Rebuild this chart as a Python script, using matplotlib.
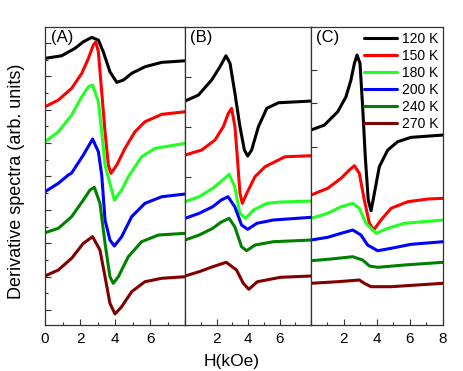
import matplotlib
matplotlib.use("Agg")
import matplotlib.pyplot as plt
import numpy as np

plt.rcParams['font.family'] = ['Liberation Sans', 'DejaVu Sans']

temps = ["120 K", "150 K", "180 K", "200 K", "240 K", "270 K"]
colors = ["black", "#ff0000", "#22ff22", "#0000ff", "#008000", "#800000"]

# panel A: (H, signal) per temperature
a_x = [
    [0, 0.95, 1.71, 2.19, 2.67, 3.05, 3.33, 3.71, 4.1, 4.48, 4.95, 5.71, 6.67, 8],
    [0, 0.76, 1.52, 2.1, 2.48, 2.76, 2.9, 3.05, 3.24, 3.43, 3.62, 3.77, 4.1, 4.57, 5.14, 5.71, 6.67, 8],
    [0, 0.76, 1.52, 2.1, 2.48, 2.72, 3.05, 3.24, 3.43, 3.71, 3.96, 4.38, 4.76, 4.95, 5.52, 6.29, 8],
    [0, 0.76, 1.33, 1.52, 2.19, 2.72, 3.05, 3.24, 3.43, 3.71, 3.96, 4.38, 4.95, 5.71, 6.67, 8],
    [0, 0.76, 1.52, 2.19, 2.57, 2.82, 3.14, 3.43, 3.71, 3.9, 4.19, 4.76, 5.52, 6.48, 8],
    [0, 0.76, 1.52, 2.19, 2.72, 3.14, 3.43, 3.71, 4.0, 4.38, 4.95, 5.71, 6.67, 8],
]
a_y = [
    [266.7, 269.3, 276.7, 283.3, 287.7, 285, 273.3, 253.3, 242.7, 245, 251.7, 258.3, 262.7, 264.3],
    [218.3, 225, 236.7, 251.7, 266.7, 280, 283.3, 273.3, 233.3, 193.3, 160, 151.7, 160, 176.7, 193.3, 203.3, 210.7, 213.3],
    [183.3, 193.3, 210, 228.3, 238.3, 240, 223.3, 193.3, 160, 141.7, 125, 135, 148.3, 153.3, 168.3, 176.7, 181.7],
    [133.3, 141.7, 150, 152, 170, 186, 173.3, 150, 105, 85, 79, 88.3, 108.3, 121.7, 128.3, 131],
    [92.3, 96.7, 108.3, 125, 135, 137.7, 121.7, 81.7, 48.3, 41.7, 48.3, 68.3, 83.3, 90, 91.7],
    [49, 55, 66.7, 81.7, 88.3, 75, 48.3, 21.7, 11, 18.3, 33.3, 43.3, 46.7, 48.3],
]

# panel B
b_x = [
    [0, 0.85, 1.69, 2.22, 2.6, 2.86, 3.17, 3.49, 3.77, 3.98, 4.23, 4.66, 5.19, 5.93, 8],
    [0, 1.06, 1.9, 2.43, 2.75, 2.96, 3.17, 3.32, 3.49, 3.64, 3.92, 4.44, 5.08, 6.35, 8],
    [0, 0.9, 1.76, 2.4, 2.8, 3.16, 3.48, 3.85, 4.34, 5.2, 6.06, 8],
    [0, 0.9, 1.76, 2.3, 2.73, 3.16, 3.59, 3.98, 4.56, 5.6, 8],
    [0, 0.9, 1.76, 2.3, 2.8, 3.16, 3.59, 3.91, 4.45, 5.6, 8],
    [0, 0.9, 1.76, 2.62, 3.27, 3.7, 4.05, 4.6, 6.06, 8],
]
b_y = [
    [224, 230, 245, 258.3, 269.3, 261.7, 231.7, 198.3, 175, 169, 175, 198.3, 216.7, 222.3, 224],
    [170, 175, 185, 198.3, 211.7, 216.7, 198.3, 168.3, 131.7, 121.7, 131.7, 148.3, 158.3, 168.3, 169.3],
    [123.3, 128.3, 136.7, 145, 150.7, 138.3, 111.7, 106.7, 115, 121.7, 123, 124],
    [106.7, 111.7, 118.3, 125, 128.3, 118.3, 100, 95.7, 101.7, 105, 107.7],
    [85, 90, 96.7, 103, 106.7, 98.3, 78.3, 74.3, 80, 83.3, 85],
    [49, 53.3, 58.3, 62.7, 55, 41.7, 35.7, 43.3, 47.7, 49],
]

# panel C
c_x = [
    [0, 0.81, 1.62, 2.12, 2.42, 2.63, 2.79, 2.97, 3.13, 3.29, 3.47, 3.64, 3.84, 4.14, 4.65, 5.25, 6.06, 8],
    [0, 1.01, 1.82, 2.32, 2.63, 2.93, 3.23, 3.54, 3.8, 4.24, 4.85, 5.86, 7.07, 8],
    [0, 1.01, 1.82, 2.53, 2.93, 3.33, 3.94, 4.65, 5.66, 8],
    [0, 1.01, 1.82, 2.53, 3.03, 3.43, 4.04, 4.85, 6.06, 8],
    [0, 1.21, 2.53, 3.13, 3.54, 4.04, 5.66, 8],
    [0, 1.62, 2.93, 3.23, 3.64, 4.85, 8],
]
c_y = [
    [195, 200, 213.3, 228.3, 245, 261.7, 270, 261.7, 218.3, 168.3, 125, 114.3, 131.7, 158.3, 175, 183.3, 187.7, 190],
    [130, 136.7, 146.7, 155, 159.3, 151.7, 125, 101.7, 95, 105, 116.7, 123.3, 126, 126.7],
    [106.7, 111.7, 118.3, 121.7, 116.7, 101.7, 91.7, 96.7, 101.7, 105],
    [85, 87.7, 91.7, 95, 90, 80, 74.3, 76.7, 80.7, 83.3],
    [64.3, 66, 68.3, 65, 59, 57.7, 60, 62.7],
    [41.7, 43.3, 45, 41.7, 38.3, 38.3, 41.7],
]

fig = plt.figure(figsize=(4.63, 3.71), dpi=100)
bot, hgt = 0.124, 0.803
axA = fig.add_axes([0.0972, bot, 0.3024, hgt])
axB = fig.add_axes([0.3996, bot, 0.2721, hgt])
axC = fig.add_axes([0.6717, bot, 0.2851, hgt])

panels = [(axA, a_x, a_y, "(A)", ['0', '2', '4', '6', '']),
          (axB, b_x, b_y, "(B)", ['', '2', '4', '6', '']),
          (axC, c_x, c_y, "(C)", ['', '2', '4', '6', '8'])]

for ax, xs, ys, tag, xlabs in panels:
    for i in range(len(temps)):
        ax.plot(xs[i], ys[i], color=colors[i], lw=2.2, label=temps[i],
                solid_joinstyle='round', solid_capstyle='round')
    ax.set_xlim(0, 8)
    ax.set_ylim(0, 298)
    ax.set_xticks([0, 2, 4, 6, 8])
    ax.set_xticklabels(xlabs)
    ax.set_xticks([1, 3, 5, 7], minor=True)
    ax.tick_params(which='both', direction='in', top=False, right=False,
                   labelsize=11, width=0.8, color='#333333', pad=5)
    ax.tick_params(which='major', length=4)
    ax.tick_params(which='minor', length=2.5)
    for s in ax.spines.values():
        s.set_linewidth(0.9)
        s.set_color('#333333')
    ax.text(0.04, 0.99, tag, transform=ax.transAxes, va='top', ha='left',
            fontsize=12)

axA.set_yticks(np.arange(15, 290, 33.4))
axA.set_yticks(np.arange(31.7, 290, 33.4), minor=True)
axA.set_yticklabels([])
axB.set_yticks([148, 198, 248])
axB.set_yticklabels([])
axC.set_yticks([178, 222, 255])
axC.set_yticklabels([])

axC.legend(loc='upper right', frameon=False, fontsize=10, handlelength=2.4,
           labelspacing=0.22, borderaxespad=0.15, handletextpad=0.3,
           borderpad=0.2)

fig.text(0.5, 0.005, "H(kOe)", ha='center', va='bottom', fontsize=12.5)
fig.text(0.035, 0.51, "Derivative spectra (arb. units)", rotation=90,
         ha='center', va='center', fontsize=13)

fig.savefig("out.png", dpi=100)
